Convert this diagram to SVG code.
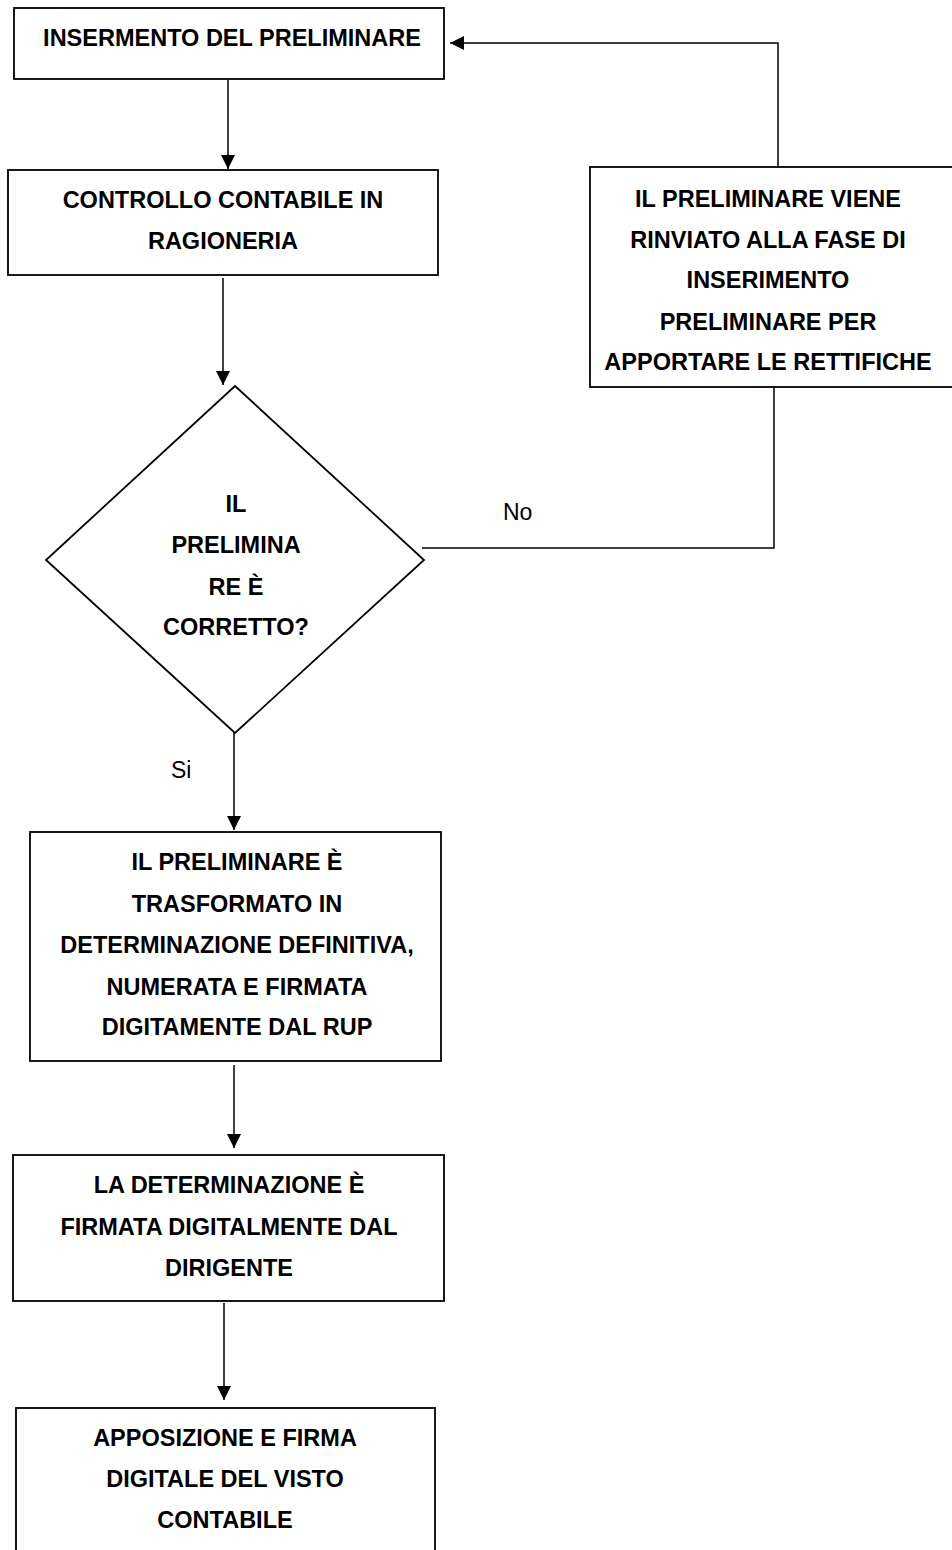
<svg xmlns="http://www.w3.org/2000/svg" width="952" height="1550" viewBox="0 0 952 1550">
<style>
.box{fill:#fff;stroke:#000;stroke-width:1.8}
.t{font-family:"Liberation Sans",Arial,sans-serif;font-weight:bold;font-size:23.5px;fill:#000;text-anchor:middle}
.lbl{font-family:"Liberation Sans",Arial,sans-serif;font-size:23px;fill:#000}
.c{fill:none;stroke:#000;stroke-width:1.5}
</style>
<defs>
<marker id="ah" markerUnits="userSpaceOnUse" markerWidth="14" markerHeight="14" refX="14" refY="7" orient="auto">
<path d="M0,0 L14,7 L0,14 z" fill="#000"/>
</marker>
</defs>
<rect width="952" height="1550" fill="#fff"/>
<g id="connectors">
<path class="c" d="M228,80 V169" marker-end="url(#ah)"/>
<path class="c" d="M223,278 V385" marker-end="url(#ah)"/>
<path class="c" d="M422,548 H774 V387"/>
<path class="c" d="M778,167 V43 H450" marker-end="url(#ah)"/>
<path class="c" d="M234,715 V830" marker-end="url(#ah)"/>
<path class="c" d="M234,1065 V1148" marker-end="url(#ah)"/>
<path class="c" d="M224,1303 V1400" marker-end="url(#ah)"/>
<text class="lbl" x="503" y="520">No</text>
<text class="lbl" x="171" y="778">Si</text>
</g>
<g id="n1">
<rect class="box" x="14" y="8" width="430" height="71"/>
<text class="t" x="232" y="46">INSERMENTO DEL PRELIMINARE</text>
</g>
<g id="n2">
<rect class="box" x="8" y="170" width="430" height="105"/>
<text class="t" x="223" y="208">CONTROLLO CONTABILE IN</text>
<text class="t" x="223" y="249">RAGIONERIA</text>
</g>
<g id="n3">
<polygon class="box" points="235,386 424,560 235,733 46,560"/>
<text class="t" x="236" y="512">IL</text>
<text class="t" x="236" y="553">PRELIMINA</text>
<text class="t" x="236" y="595">RE È</text>
<text class="t" x="236" y="635">CORRETTO?</text>
</g>
<g id="n4">
<rect class="box" x="590" y="167" width="370" height="220"/>
<text class="t" x="768" y="207">IL PRELIMINARE VIENE</text>
<text class="t" x="768" y="248">RINVIATO ALLA FASE DI</text>
<text class="t" x="768" y="288">INSERIMENTO</text>
<text class="t" x="768" y="330">PRELIMINARE PER</text>
<text class="t" x="768" y="370">APPORTARE LE RETTIFICHE</text>
</g>
<g id="n5">
<rect class="box" x="30" y="832" width="411" height="229"/>
<text class="t" x="237" y="870">IL PRELIMINARE È</text>
<text class="t" x="237" y="912">TRASFORMATO IN</text>
<text class="t" x="237" y="953">DETERMINAZIONE DEFINITIVA,</text>
<text class="t" x="237" y="995">NUMERATA E FIRMATA</text>
<text class="t" x="237" y="1035">DIGITAMENTE DAL RUP</text>
</g>
<g id="n6">
<rect class="box" x="13" y="1155" width="431" height="146"/>
<text class="t" x="229" y="1193">LA DETERMINAZIONE È</text>
<text class="t" x="229" y="1235">FIRMATA DIGITALMENTE DAL</text>
<text class="t" x="229" y="1276">DIRIGENTE</text>
</g>
<g id="n7">
<rect class="box" x="16" y="1408" width="419" height="160"/>
<text class="t" x="225" y="1446">APPOSIZIONE E FIRMA</text>
<text class="t" x="225" y="1487">DIGITALE DEL VISTO</text>
<text class="t" x="225" y="1528">CONTABILE</text>
</g>
</svg>
